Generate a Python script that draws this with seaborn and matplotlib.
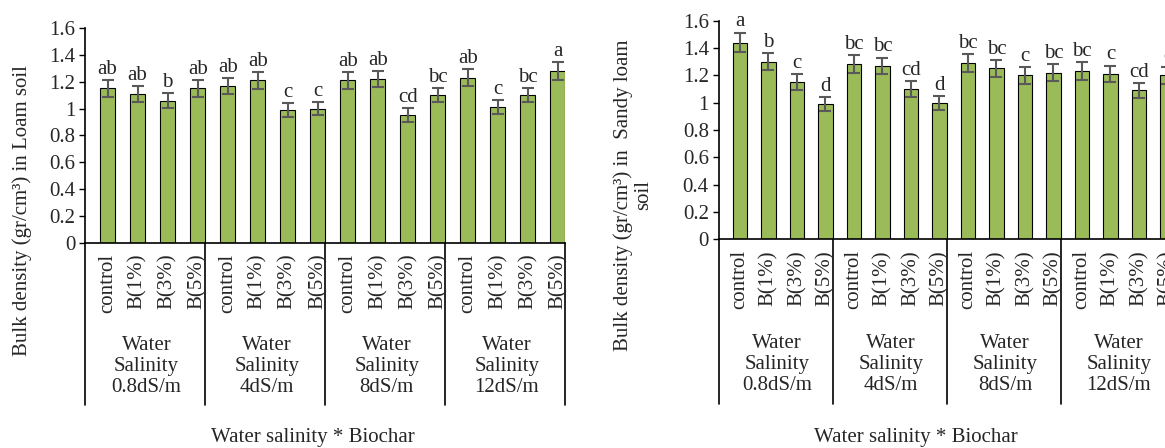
import numpy as np
import pandas as pd
import matplotlib
matplotlib.use("Agg")
import matplotlib.pyplot as plt
import seaborn as sns

# data
treatments = ["control", "B(1%)", "B(3%)", "B(5%)"]
salinity = ["Water\nSalinity\n0.8dS/m", "Water\nSalinity\n4dS/m",
            "Water\nSalinity\n8dS/m", "Water\nSalinity\n12dS/m"]

loam_mean = [1.15, 1.11, 1.06, 1.15, 1.17, 1.21, 0.99, 1.00,
             1.21, 1.22, 0.95, 1.10, 1.23, 1.01, 1.10, 1.28]
loam_err = [0.060, 0.057, 0.054, 0.060, 0.060, 0.065, 0.052, 0.050,
            0.065, 0.062, 0.052, 0.052, 0.062, 0.052, 0.052, 0.067]
loam_letters = ["ab", "ab", "b", "ab", "ab", "ab", "c", "c",
                "ab", "ab", "cd", "bc", "ab", "c", "bc", "a"]

sandy_mean = [1.44, 1.30, 1.15, 0.99, 1.28, 1.27, 1.10, 1.00,
              1.29, 1.25, 1.20, 1.22, 1.23, 1.21, 1.09, 1.20]
sandy_err = [0.073, 0.064, 0.058, 0.049, 0.066, 0.060, 0.059, 0.051,
             0.068, 0.061, 0.061, 0.063, 0.064, 0.061, 0.056, 0.060]
sandy_letters = ["a", "b", "c", "d", "bc", "bc", "cd", "d",
                 "bc", "bc", "c", "bc", "bc", "c", "cd", "c"]

ytick_vals = [0, 0.2, 0.4, 0.6, 0.8, 1.0, 1.2, 1.4, 1.6]
ytick_labels = ["0", "0.2", "0.4", "0.6", "0.8", "1", "1.2", "1.4", "1.6"]

sns.set_style("white")
plt.rcParams["font.family"] = ["Liberation Serif", "DejaVu Serif"]
plt.rcParams["font.size"] = 15

BAR = "#9BBB59"
FS = 15

fig = plt.figure(figsize=(11.65, 4.48), dpi=100)
ax1 = fig.add_axes([0.0730, 0.4576, 0.4124, 0.4799])
ax2 = fig.add_axes([0.6168, 0.4659, 0.3914, 0.4880])


def draw(ax, means, errs, letters):
    df = pd.DataFrame({
        "pos": np.arange(len(means)),
        "value": means,
    })
    sns.barplot(data=df, x="pos", y="value", native_scale=True,
                color=BAR, saturation=1, width=0.5,
                edgecolor="black", linewidth=0.8, errorbar=None, ax=ax)
    ax.errorbar(df["pos"], df["value"], yerr=errs, fmt="none",
                ecolor="#595959", elinewidth=1.5, capsize=4.5, capthick=1.5)
    for x, v, e, t in zip(df["pos"], means, errs, letters):
        ax.text(x, v + e + 0.045, t, ha="center", va="baseline", fontsize=FS)

    ax.set_xlim(-0.75, 15.25)
    ax.set_ylim(0, 1.6)
    ax.set_yticks(ytick_vals)
    ax.set_yticklabels(ytick_labels, fontsize=FS)
    ax.set_xticks([])
    ax.set_xlabel("")
    ax.set_ylabel("")
    ax.tick_params(axis="y", direction="out", length=4, width=1,
                   color="black", left=True, pad=3)
    for s in ["top", "right"]:
        ax.spines[s].set_visible(False)
    ax.spines["left"].set_color("black")
    ax.spines["left"].set_linewidth(1.2)
    ax.spines["bottom"].set_color("black")
    ax.spines["bottom"].set_linewidth(1.2)

    trans = ax.get_xaxis_transform()
    # category labels under each bar
    for i in range(16):
        ax.text(i, -0.05, treatments[i % 4], rotation=90, ha="center",
                va="top", fontsize=FS, transform=trans)
    # group separators and group names
    for g in range(5):
        ax.plot([4 * g - 0.75, 4 * g - 0.75], [0, -0.753], color="black",
                lw=1.2, transform=trans, clip_on=False)
    for g in range(4):
        ax.text(4 * g + 1.3, -0.573, salinity[g], ha="center", va="center",
                fontsize=FS, linespacing=1.15, transform=trans)


draw(ax1, loam_mean, loam_err, loam_letters)
draw(ax2, sandy_mean, sandy_err, sandy_letters)

fig.text(22 / 1165, 1 - 211 / 448, "Bulk density (gr/cm³) in Loam soil",
         rotation=90, ha="center", va="center", fontsize=FS)
fig.text(633 / 1165, 1 - 195 / 448, "Bulk density (gr/cm³) in  Sandy loam\nsoil",
         rotation=90, ha="center", va="center", fontsize=FS,
         multialignment="center", linespacing=1.1)

fig.text(313 / 1165, 1 - 437 / 448, "Water salinity * Biochar",
         ha="center", va="center", fontsize=FS)
fig.text(916 / 1165, 1 - 437 / 448, "Water salinity * Biochar",
         ha="center", va="center", fontsize=FS)

fig.savefig("out.png", dpi=100)
